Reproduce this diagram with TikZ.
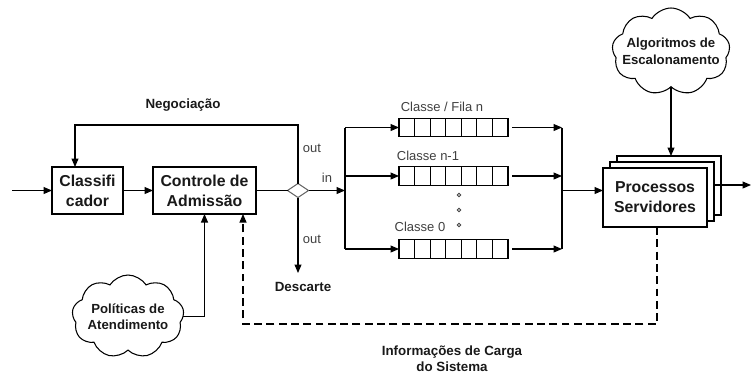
\documentclass[tikz,border=0pt]{standalone}
\usepackage{fontspec}
\setmainfont{Liberation Sans}
\usetikzlibrary{shapes.geometric, shapes.symbols, arrows.meta, positioning}
\definecolor{labelgray}{RGB}{64, 64, 64}
\definecolor{inkblack}{RGB}{25, 25, 25}

\begin{document}
\begin{tikzpicture}[
    >={Triangle[length=1.7mm, width=1.4mm]},
    line width=0.6pt,
    block/.style={draw, fill=white, minimum height=0.94cm, align=center, inner sep=1pt, outer sep=0pt, text=inkblack, font=\bfseries\fontsize{9}{11.4}\selectfont},
    servbox/.style={draw, fill=white, minimum width=2.08cm, minimum height=1.18cm, inner sep=0pt, outer sep=0pt},
    nuvem/.style={cloud, draw, fill=white, cloud puffs=9, cloud puff arc=115, inner sep=0pt, outer sep=0pt},
    nuvemtxt/.style={align=center, inner sep=0pt, text=inkblack, font=\bfseries\fontsize{7.5}{9.4}\selectfont},
    fila/.style={draw, minimum width=2.18cm, minimum height=0.37cm, inner sep=0pt, outer sep=0pt},
    rotulo/.style={font=\bfseries\fontsize{7.6}{9.2}\selectfont, text=inkblack, align=center},
    porta/.style={font=\fontsize{7.4}{9}\selectfont, text=labelgray},
    decisao/.style={diamond, draw=black!60, fill=white, minimum width=0.42cm, minimum height=0.28cm, inner sep=0pt, outer sep=0pt},
    carga/.style={dash pattern=on 4.5pt off 2.5pt},
]
\useasboundingbox (0,0) rectangle (15.04,7.52);

% --- Entrada: classificador e controle de admissao ---
\node[block, minimum width=1.42cm] (clas) at (1.75, 3.71) {Classifi\\cador};
\node[block, minimum width=2.06cm] (adm) at (4.09, 3.71) {Controle de\\Admissão};
\coordinate (entrada) at (0.24, 3.71);
\draw[->] (entrada) -- (clas.west);
\draw[->] (clas.east) -- (adm.west);

% --- Ponto de decisao (in / out) ---
\node[decisao] (diam) at (5.96, 3.71) {};
\draw (adm.east) -- (diam.west);
\coordinate (desc) at (5.96, 2.06);
\draw[->] (diam.south) -- (desc);
\node[rotulo] (descarte) at (6.06, 1.78) {Descarte};
\node[porta] (outcima) at (6.24, 4.56) {out};
\node[porta] (inlbl) at (6.54, 3.96) {in};
\node[porta] (outbaixo) at (6.24, 2.74) {out};

% --- Realimentacao de negociacao ---
\coordinate (neg) at (1.50, 5.02);
\draw[->] (diam.north) |- (neg) -- (neg |- clas.north);
\node[rotulo] (negoc) at (3.66, 5.42) {Negociação};

% --- Filas por classe ---
\coordinate (jin) at (6.90, 3.71);
\coordinate (jout) at (11.24, 3.71);
\foreach \q/\y in {q1/4.97, q2/4.00, q3/2.54}{
    \node[fila] (\q) at (9.07, \y) {};
    \foreach \k in {1,...,6}{
        \draw ([xshift=\k*0.3114cm]\q.south west) -- ([xshift=\k*0.3114cm]\q.north west);
    }
    \draw[->] (jin |- \q) -- (\q.west);
    \draw[->] ([xshift=0.08cm]\q.east) -- (jout |- \q);
}
\draw[->] (diam.east) -- (jin);
\draw (jin |- q1) -- (jin |- q3);
\draw (jout |- q1) -- (jout |- q3);
\node[porta] (lq1) at (8.84, 5.38) {Classe / Fila n};
\node[porta] (lq2) at (8.56, 4.40) {Classe n-1};
\node[porta] (lq3) at (8.40, 2.98) {Classe 0};
\foreach \y in {3.62, 3.32, 3.02}{ \draw[labelgray, line width=0.5pt] (9.18, \y) circle (0.035); }

% --- Processos servidores (pilha) ---
\node[servbox] (serv3) at (13.38, 3.81) {};
\node[servbox] (serv2) at (13.24, 3.69) {};
\node[block, minimum width=2.08cm, minimum height=1.18cm] (serv) at (13.10, 3.57) {Processos\\Servidores};
\draw[->] (jout) -- (jout -| serv.west);
\coordinate (saida) at (15.02, 3.82);
\draw[->] (saida -| serv2.east) -- (saida);

% --- Nuvens de politicas e algoritmos ---
\node[nuvem, minimum width=2.36cm, minimum height=1.74cm] (alg) at (13.42, 6.49) {};
\node[nuvemtxt] (algtxt) at (alg.center) {Algoritmos de\\Escalonamento};
\draw[->] (alg.south) -- (alg.south |- serv3.north);
\node[nuvem, minimum width=2.24cm, minimum height=1.66cm] (pol) at (2.56, 1.19) {};
\node[nuvemtxt] (poltxt) at (pol.center) {Políticas de\\Atendimento};
\draw[->] (pol.east) -| (adm.south);

% --- Informacao de carga (tracejado) ---
\coordinate (cb) at (4.86, 1.04);
\draw[carga, ->] ([xshift=0.04cm]serv.south) |- (cb) -- (cb |- adm.south);
\node[rotulo] (infcarga) at (9.04, 0.34) {Informações de Carga\\do Sistema};

\end{tikzpicture}
\end{document}
